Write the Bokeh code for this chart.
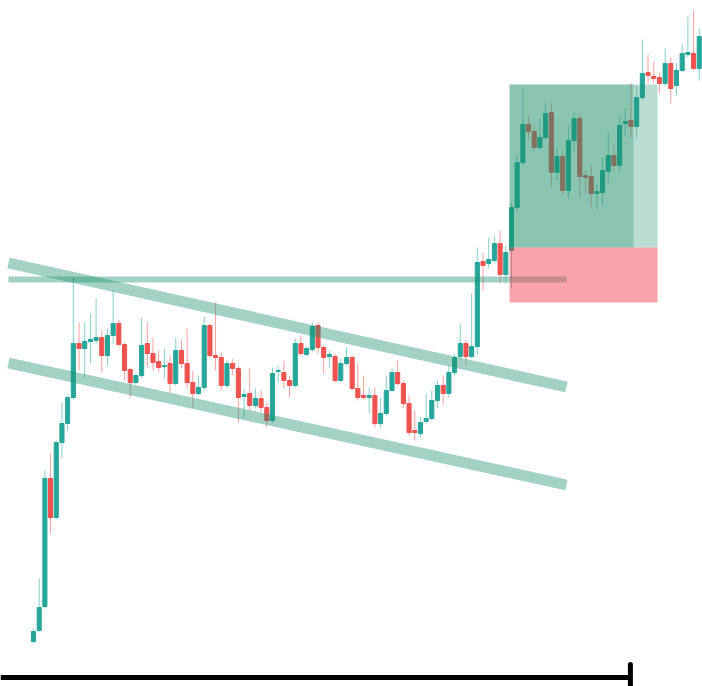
from bokeh.plotting import figure
from bokeh.models import Range1d, ColumnDataSource
from bokeh.embed import file_html
from bokeh.resources import INLINE

# ---- candle data (index, open, high, low, close) ----
opens = [59, 70, 94, 222, 183, 258, 277, 303, 357, 352, 359, 360, 363, 345, 365, 377, 356, 331, 318, 325,
         357, 347, 339, 334, 337, 317, 350, 337, 318, 307, 313, 375, 345, 343, 315, 337, 332, 304, 307, 295,
         302, 293, 280, 329, 328, 320, 315, 357, 346, 351, 375, 353, 344, 344, 320, 337, 343, 312, 305, 303,
         305, 277, 287, 310, 328, 317, 297, 270, 267, 279, 282, 300, 315, 307, 328, 344, 357, 344, 354, 439,
         437, 440, 457, 426, 450, 493, 538, 576, 569, 553, 563, 588, 528, 544, 510, 560, 582, 525, 524, 507,
         508, 529, 545, 535, 577, 580, 574, 603, 628, 624, 623, 617, 637, 615, 630, 646, 647, 632]
highs = [72, 122, 230, 247, 260, 298, 305, 423, 378, 378, 387, 402, 370, 372, 410, 381, 358, 333, 327, 383,
         378, 363, 350, 352, 345, 363, 361, 372, 330, 325, 384, 377, 398, 348, 340, 342, 335, 312, 332, 312,
         310, 298, 333, 335, 340, 325, 362, 365, 354, 378, 378, 355, 350, 347, 342, 353, 345, 337, 325, 313,
         313, 303, 325, 332, 340, 320, 305, 290, 283, 307, 310, 320, 325, 335, 347, 377, 360, 407, 453, 448,
         463, 465, 470, 455, 497, 545, 612, 585, 575, 582, 598, 597, 553, 550, 575, 588, 587, 530, 535, 517,
         543, 568, 555, 585, 592, 617, 615, 661, 646, 639, 628, 652, 643, 637, 657, 684, 690, 672]
lows = [57, 68, 92, 167, 181, 242, 270, 301, 330, 323, 337, 356, 328, 335, 357, 354, 320, 303, 316, 323,
        333, 330, 328, 322, 308, 315, 332, 312, 293, 305, 310, 343, 330, 310, 312, 325, 278, 282, 290, 292,
        288, 273, 278, 318, 312, 303, 313, 345, 344, 348, 347, 327, 333, 318, 318, 335, 310, 300, 301, 287,
        273, 273, 285, 308, 315, 293, 265, 260, 263, 277, 280, 292, 295, 303, 325, 341, 335, 342, 346, 410,
        432, 438, 417, 417, 412, 490, 535, 562, 550, 551, 560, 513, 520, 505, 502, 550, 503, 507, 493, 492,
        495, 518, 530, 530, 565, 563, 562, 600, 617, 617, 607, 614, 597, 605, 628, 643, 630, 620]
closes = [69, 93, 222, 183, 258, 277, 303, 357, 352, 359, 361, 363, 345, 365, 377, 356, 330, 318, 325, 355,
          347, 338, 333, 335, 317, 350, 337, 318, 307, 313, 375, 345, 343, 315, 337, 332, 303, 306, 295, 302,
          293, 280, 327, 330, 320, 315, 357, 347, 352, 374, 353, 343, 346, 320, 337, 343, 312, 303, 303, 305,
          277, 287, 310, 328, 317, 297, 268, 268, 278, 282, 300, 315, 307, 328, 343, 357, 344, 354, 438, 435,
          441, 457, 426, 448, 493, 538, 576, 569, 553, 563, 587, 528, 544, 510, 560, 582, 524, 523, 507, 509,
          530, 545, 535, 575, 579, 574, 603, 627, 625, 622, 617, 637, 612, 630, 647, 648, 632, 664]
index = list(range(len(opens)))

# ---- drawings ----
upper_channel_x = [-4.39, 93.67]
upper_channel_y = [437.5, 313.5]
lower_channel_x = [-4.39, 93.67]
lower_channel_y = [337.5, 215.5]
level_x = [-4.39, 93.67]
level_y = [421, 421]
target_left, target_right, target_inner_right = 83.66, 109.67, 105.45
target_top, entry_level, stop_level = 616, 453, 398
measure_x = [-5.8, 104.9]
measure_y = [23, 23]
measure_tick_y = [10, 36]

GREEN = "#26a69a"
RED = "#ef5350"

colors = [GREEN if c >= o else RED for o, c in zip(opens, closes)]
src = ColumnDataSource(dict(
    x=index, o=opens, h=highs, l=lows, c=closes,
    top=[max(o, c) for o, c in zip(opens, closes)],
    bottom=[min(o, c) for o, c in zip(opens, closes)],
    color=colors,
))

p = figure(width=702, height=686, output_backend="svg", toolbar_location=None,
           x_range=Range1d(-5.8, 117.57), y_range=Range1d(14, 700),
           x_axis_type=None, y_axis_type=None, min_border=0,
           background_fill_color="white", border_fill_color="white")
p.outline_line_color = None
p.grid.visible = False

p.segment(x0="x", y0="l", x1="x", y1="h", source=src, line_color="color", line_alpha=0.55, line_width=1)
p.vbar(x="x", width=0.72, top="top", bottom="bottom", source=src, fill_color="color", line_color="color")

line_col = "#198f6b"
p.line(upper_channel_x, upper_channel_y, line_color=line_col, line_alpha=0.4, line_width=11)
p.line(lower_channel_x, lower_channel_y, line_color=line_col, line_alpha=0.4, line_width=11)
p.line(level_x, level_y, line_color=line_col, line_alpha=0.4, line_width=6)

p.quad(left=[target_left], right=[target_right], top=[target_top], bottom=[entry_level],
       fill_color=line_col, fill_alpha=0.3, line_color=None)
p.quad(left=[target_left], right=[target_inner_right], top=[target_top], bottom=[entry_level],
       fill_color=line_col, fill_alpha=0.3, line_color=None)
p.quad(left=[target_left], right=[target_right], top=[entry_level], bottom=[stop_level],
       fill_color="#f23645", fill_alpha=0.45, line_color=None)

p.line(measure_x, measure_y, line_color="black", line_width=5)
p.line([measure_x[1], measure_x[1]], measure_tick_y, line_color="black", line_width=5, line_cap="round")

open("out.html", "w").write(file_html(p, INLINE))
